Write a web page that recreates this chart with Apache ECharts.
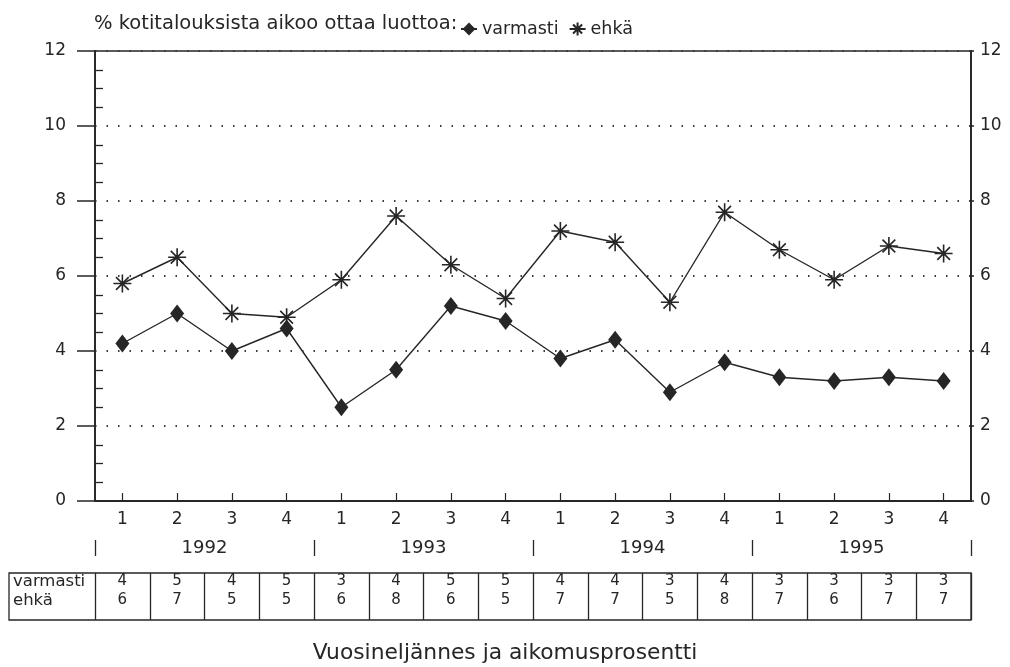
<!DOCTYPE html>
<html>
<head>
<meta charset="utf-8">
<title>Kotitalouksien luotonottoaikeet 1992–1995</title>
<script src="https://cdn.jsdelivr.net/npm/echarts@6/dist/echarts.min.js"></script>
<style>
  html, body { margin: 0; padding: 0; background: #fff; }
  #chart { width: 1010px; height: 667px; }
</style>
</head>
<body>
<div id="chart"></div>
<script>
// Quarters and years shown on the category axis
const quarters = ['1', '2', '3', '4'];
const years = ['1992', '1993', '1994', '1995'];

// Share of households (%) planning to take a loan, per quarter
const varmasti = [4.2, 5.0, 4.0, 4.6, 2.5, 3.5, 5.2, 4.8, 3.8, 4.3, 2.9, 3.7, 3.3, 3.2, 3.3, 3.2];
const ehka     = [5.8, 6.5, 5.0, 4.9, 5.9, 7.6, 6.3, 5.4, 7.2, 6.9, 5.3, 7.7, 6.7, 5.9, 6.8, 6.6];

// Row names of the value table under the chart
const tableRows = ['varmasti', 'ehkä'];

const categories = [];
years.forEach(y => quarters.forEach(q => categories.push(y + '/' + q)));
const varmastiRounded = varmasti.map(v => Math.round(v));
const ehkaRounded = ehka.map(v => Math.round(v));

const INK = '#262626';
const FONT = 'DejaVu Sans';

// eight-armed asterisk marker
const asterisk = 'path://M8 0L8 16M0 8L16 8M2.34 2.34L13.66 13.66M2.34 13.66L13.66 2.34';

const chart = echarts.init(document.getElementById('chart'), null, { renderer: 'canvas' });

const hiddenY = (gridIndex) => ({
  type: 'value', gridIndex, show: false, min: 0, max: 1
});

const option = {
  backgroundColor: '#fff',
  animation: false,
  textStyle: { fontFamily: FONT, color: INK },
  title: [
    {
      text: '% kotitalouksista aikoo ottaa luottoa:',
      left: 89, top: 9,
      textStyle: { fontFamily: FONT, fontSize: 19.5, fontWeight: 'normal', color: INK }
    },
    {
      text: 'Vuosineljännes ja aikomusprosentti',
      left: 'center', top: 637,
      textStyle: { fontFamily: FONT, fontSize: 21.8, fontWeight: 'normal', color: INK }
    }
  ],
  legend: {
    left: 455, top: 15,
    itemWidth: 16, itemHeight: 16, itemGap: 10,
    textStyle: { fontFamily: FONT, fontSize: 17.5, color: INK, padding: [4, 0, 0, 0] },
    data: ['varmasti', 'ehkä']
  },
  grid: [
    // main plot
    { left: 95, right: 39, top: 51, bottom: 166,
      show: true, borderColor: INK, borderWidth: 1.6, outerBoundsMode: 'none' },
    // year row
    { left: 95, right: 39, top: 540, height: 16, outerBoundsMode: 'none' },
    // value table
    { left: 95, right: 39, top: 573, height: 47, outerBoundsMode: 'none' }
  ],
  xAxis: [
    {
      // quarter numbers
      type: 'category', gridIndex: 0, data: categories, boundaryGap: true, position: 'bottom',
      axisLine: { show: true, lineStyle: { color: INK, width: 1.8 } },
      axisTick: { show: true, inside: true, length: 8, alignWithLabel: true, interval: 0,
                  lineStyle: { color: INK, width: 1.2 } },
      axisLabel: { interval: 0, margin: 10, fontSize: 17, fontFamily: FONT, color: INK,
                   formatter: (v, i) => quarters[i % quarters.length] },
      splitLine: { show: false }
    },
    {
      // year row with separators
      type: 'category', gridIndex: 1, data: years, boundaryGap: true, position: 'bottom',
      axisLine: { show: false },
      axisTick: { show: false },
      axisLabel: { interval: 0, inside: true, margin: 8, verticalAlign: 'middle',
                   fontSize: 18, fontFamily: FONT, color: INK },
      splitLine: { show: true, interval: 0, lineStyle: { color: INK, width: 1.3 } }
    },
    {
      // value table columns
      type: 'category', gridIndex: 2, data: categories, boundaryGap: true, position: 'bottom',
      axisLine: { show: false },
      axisTick: { show: false },
      axisLabel: {
        interval: 0, inside: true, margin: 10, verticalAlign: 'bottom',
        fontSize: 15, lineHeight: 19, fontFamily: FONT, color: INK,
        formatter: (v, i) => varmastiRounded[i] + '\n' + ehkaRounded[i]
      },
      splitLine: { show: true, interval: 0, lineStyle: { color: INK, width: 1.3 } }
    }
  ],
  yAxis: [
    {
      type: 'value', gridIndex: 0, min: 0, max: 12, interval: 2, position: 'left',
      axisLine: { show: true, lineStyle: { color: INK, width: 1.8 } },
      axisTick: { show: true, length: 18, lineStyle: { color: INK, width: 1.5 } },
      axisLabel: { margin: 29, fontSize: 17, fontFamily: FONT, color: INK },
      splitLine: { show: true, lineStyle: { color: '#3a3a3a', width: 2, type: [1.5, 10] } }
    },
    {
      type: 'value', gridIndex: 0, min: 0, max: 12, interval: 2, position: 'right',
      axisLine: { show: true, lineStyle: { color: INK, width: 1.8 } },
      axisTick: { show: true, length: 3, lineStyle: { color: INK, width: 1.5 } },
      axisLabel: { margin: 9, fontSize: 17, fontFamily: FONT, color: INK },
      splitLine: { show: false }
    },
    {
      // half-unit ticks on the inner side of the left axis
      type: 'value', gridIndex: 0, min: 0, max: 12, interval: 2, position: 'left',
      axisLine: { show: false },
      axisTick: { show: false, inside: true },
      axisLabel: { show: false },
      splitLine: { show: false },
      minorTick: { show: true, splitNumber: 4, length: 8, lineStyle: { color: INK, width: 1.3 } },
      minorSplitLine: { show: false }
    },
    hiddenY(1),
    hiddenY(2)
  ],
  series: [
    {
      name: 'varmasti', type: 'line', data: varmasti,
      xAxisIndex: 0, yAxisIndex: 0,
      symbol: 'diamond', symbolSize: [14, 18],
      lineStyle: { color: INK, width: 1.4 },
      itemStyle: { color: INK }
    },
    {
      name: 'ehkä', type: 'line', data: ehka,
      xAxisIndex: 0, yAxisIndex: 0,
      symbol: asterisk, symbolSize: 18,
      lineStyle: { color: INK, width: 1.4 },
      itemStyle: { color: INK, borderColor: INK, borderWidth: 1.6 }
    }
  ],
  graphic: [
    {
      type: 'rect', z: 10,
      shape: { x: 9, y: 573, width: 962, height: 47 },
      style: { fill: 'none', stroke: INK, lineWidth: 1.3 }
    },
    {
      type: 'text', z: 10, left: 13, top: 572,
      style: { text: tableRows.join('\n'), fontFamily: FONT, fontSize: 16.5, lineHeight: 19, fill: INK }
    }
  ]
};

chart.setOption(option);
</script>
</body>
</html>
